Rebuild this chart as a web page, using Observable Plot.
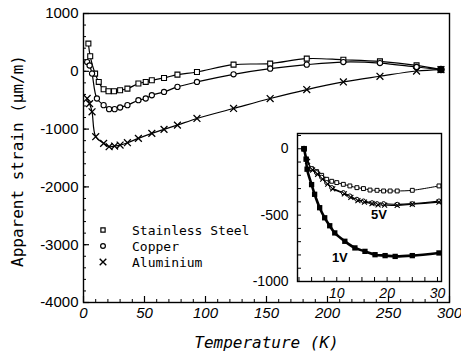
<!DOCTYPE html>
<html>
<head>
<meta charset="utf-8">
<script src="https://cdn.jsdelivr.net/npm/d3@7"></script>
<script src="https://cdn.jsdelivr.net/npm/@observablehq/plot@0.6"></script>
<style>
  html, body { margin: 0; padding: 0; background: white; }
  #wrap { position: relative; width: 461px; height: 358px; }
  #wrap > svg { position: absolute; }
</style>
</head>
<body>
<div id="wrap"></div>
<script>
// ---------- Main chart data (Temperature K, apparent strain µm/m) ----------
const ssT = [4, 5.5, 9.5, 12.5, 16.5, 20.5, 25, 30, 36, 45, 51, 56, 66, 77, 93, 123, 153, 183, 213, 243, 273, 293];
const ssV = [480, 260, -40, -184, -310, -345, -345, -328, -300, -212, -184, -155, -115, -57, -12, 115, 133, 219, 200, 172, 103, 30];

const cuT = [3, 5, 7, 11, 16.5, 21, 25.5, 30, 36, 45, 51, 56, 66, 77, 93, 123, 153, 183, 213, 243, 273, 293];
const cuV = [160, 100, -40, -471, -586, -655, -655, -626, -586, -500, -471, -414, -357, -270, -184, -52, 46, 115, 160, 143, 74, 30];

const alT = [3, 5, 7, 10, 16.5, 21, 25.5, 30, 36, 45, 56, 66, 77, 93, 123, 153, 183, 213, 243, 273, 293];
const alV = [-470, -560, -700, -1132, -1247, -1305, -1293, -1276, -1236, -1160, -1074, -1005, -931, -816, -643, -471, -316, -184, -86, 5, 30];

const seriesNames = ["Stainless Steel", "Copper", "Aluminium"];

// ---------- Inset data ----------
const inTopT = [3.5, 4, 5, 6, 7, 8, 9, 10, 11.3, 12.6, 14, 15.3, 16.6, 18, 19.3, 20.6, 22, 25, 30.3];
const inTopV = [0, -80, -150, -172, -200, -230, -245, -255, -268, -280, -293, -300, -311, -313, -318, -318, -318, -313, -280];

const in5aT = [3.5, 4, 5, 6, 7, 8, 9, 11.3, 12.6, 14, 15.3, 17, 18, 19.3, 22, 25, 30.3];
const in5aV = [0, -80, -150, -180, -215, -255, -293, -331, -356, -381, -394, -407, -414, -414, -419, -414, -394];
const in5bT = [3.5, 4.2, 5.2, 6.2, 7.2, 8.2, 9.2, 11.5, 12.8, 14.2, 15.5, 17, 18.2, 19.5, 22, 25, 30.3];
const in5bV = [0, -95, -160, -192, -228, -266, -302, -340, -366, -390, -402, -414, -422, -424, -426, -418, -402];

const in1T = [3.5, 3.9, 4.1, 5, 5.6, 6.6, 7.6, 8.6, 9.6, 11.6, 13.6, 15.6, 17.6, 19.6, 21.6, 25, 30.3];
const in1V = [0, -78, -154, -270, -343, -444, -520, -580, -634, -697, -747, -773, -798, -805, -811, -805, -785];

const voltLabels = ["5V", "1V"];

// ---------- Tick values ----------
const xTicks = [0, 50, 100, 150, 200, 250, 300];
const xMinor = d3.range(0, 301, 10);
const yTicks = [1000, 0, -1000, -2000, -3000, -4000];
const yMinor = d3.range(-4000, 1001, 200);

const inXTicks = [10, 20, 30];
const inXMinor = d3.range(2.5, 30.1, 2.5);
const inYTicks = [0, -500, -1000];
const inYMinor = d3.range(-1000, 101, 100);

const zip = (T, V) => T.map((t, i) => ({T: t, V: V[i]}));
const ss = zip(ssT, ssV), cu = zip(cuT, cuV), al = zip(alT, alV);
const iTop = zip(inTopT, inTopV), i5a = zip(in5aT, in5aV), i5b = zip(in5bT, in5bV), i1 = zip(in1T, in1V);

const tickFont = "'Liberation Sans', Arial, sans-serif";
const monoFont = "'DejaVu Sans Mono', monospace";

// ---------- Main plot ----------
const W = 461, H = 358, mL = 83, mR = 12, mT = 13, mB = 56;
const fw = W - mL - mR, fh = H - mT - mB;

const main = Plot.plot({
  width: W, height: H,
  marginLeft: mL, marginRight: mR, marginTop: mT, marginBottom: mB,
  x: {domain: [0, 300], label: null},
  y: {domain: [-4000, 1000], label: null},
  style: {background: "transparent", fontFamily: tickFont, color: "black", overflow: "visible"},
  marks: [
    Plot.tickX(xMinor, {x: d => d, insetTop: fh - 3, stroke: "black", strokeWidth: 1}),
    Plot.tickX(xTicks, {x: d => d, insetTop: fh - 6, stroke: "black", strokeWidth: 1.2}),
    Plot.tickY(yMinor, {y: d => d, insetRight: fw - 3, stroke: "black", strokeWidth: 1}),
    Plot.tickY(yTicks, {y: d => d, insetRight: fw - 6, stroke: "black", strokeWidth: 1.2}),
    Plot.axisX(xTicks, {tickSize: 0, tickPadding: 5, fontSize: 15, fontStyle: "italic", tickFormat: d => String(d), label: null}),
    Plot.axisY(yTicks, {tickSize: 0, tickPadding: 5, fontSize: 15, tickFormat: d => String(d), label: null}),
    Plot.line(ss, {x: "T", y: "V", curve: "catmull-rom", stroke: "black", strokeWidth: 1.2}),
    Plot.line(cu, {x: "T", y: "V", curve: "catmull-rom", stroke: "black", strokeWidth: 1.2}),
    Plot.line(al, {x: "T", y: "V", curve: "catmull-rom", stroke: "black", strokeWidth: 1.2}),
    Plot.dot(ss, {x: "T", y: "V", symbol: "square", r: 2.8, stroke: "black", fill: "white", strokeWidth: 1.1}),
    Plot.dot(cu, {x: "T", y: "V", symbol: "circle", r: 2.6, stroke: "black", fill: "white", strokeWidth: 1.1}),
    Plot.dot(al, {x: "T", y: "V", symbol: "times", r: 3.2, stroke: "black", strokeWidth: 1.3}),
    Plot.dot(cu.slice(-1), {x: "T", y: "V", r: 3.8, fill: "black"}),
    Plot.frame({stroke: "black", strokeWidth: 1.4}),
    Plot.text(["Temperature (K)"], {frameAnchor: "bottom", dy: 45, fontFamily: monoFont, fontSize: 16, fontStyle: "italic", fill: "black"}),
    Plot.text(["Apparent strain (µm/m)"], {frameAnchor: "left", textAnchor: "middle", dx: -66, dy: 3, rotate: -90, fontFamily: monoFont, fontSize: 16, fill: "black"})
  ]
});
main.style.left = "0px"; main.style.top = "0px";
document.getElementById("wrap").appendChild(main);

// ---------- Legend overlay ----------
const leg = d3.create("svg").attr("width", W).attr("height", H).style("left", "0px").style("top", "0px");
const legSyms = [d3.symbolSquare, d3.symbolCircle, d3.symbolTimes];
seriesNames.forEach((name, i) => {
  const y = 230 + i * 16;
  const g = leg.append("g").attr("transform", `translate(103,${y})`);
  const sym = legSyms[i];
  g.append("path").attr("d", d3.symbol(sym, i === 2 ? 30 : 18)())
    .attr("fill", i === 2 ? "none" : "white").attr("stroke", "black").attr("stroke-width", i === 2 ? 1.4 : 1.2);
  leg.append("text").attr("x", 132).attr("y", y + 5).text(name)
    .attr("font-family", "'DejaVu Sans Mono', monospace").attr("font-size", 13).attr("fill", "black");
});
document.getElementById("wrap").appendChild(leg.node());

// ---------- Inset ----------
const iW = 215, iH = 183, imL = 57, imR = 14, imT = 13, imB = 22;
const ifw = iW - imL - imR, ifh = iH - imT - imB;
const inset = Plot.plot({
  width: iW, height: iH,
  marginLeft: imL, marginRight: imR, marginTop: imT, marginBottom: imB,
  x: {domain: [2.2, 30.8], label: null},
  y: {domain: [-1000, 115], label: null},
  style: {background: "transparent", fontFamily: tickFont, color: "black", overflow: "visible"},
  marks: [
    Plot.frame({fill: "white", stroke: "none"}),
    Plot.tickX(inXMinor, {x: d => d, insetTop: ifh - 4, stroke: "black", strokeWidth: 1}),
    Plot.tickY(inYMinor, {y: d => d, insetRight: ifw - 4, stroke: "black", strokeWidth: 1}),
    Plot.axisX(inXTicks, {tickSize: 0, tickPadding: 7, fontSize: 14, fontStyle: "italic", tickFormat: d => String(d), label: null}),
    Plot.axisY(inYTicks, {tickSize: 0, tickPadding: 9, fontSize: 14, tickFormat: d => String(d), label: null}),
    Plot.line(iTop, {x: "T", y: "V", curve: "catmull-rom", stroke: "black", strokeWidth: 1}),
    Plot.line(i5a, {x: "T", y: "V", curve: "catmull-rom", stroke: "black", strokeWidth: 1.2}),
    Plot.line(i5b, {x: "T", y: "V", curve: "catmull-rom", stroke: "black", strokeWidth: 1.2}),
    Plot.line(i1, {x: "T", y: "V", curve: "catmull-rom", stroke: "black", strokeWidth: 2.6}),
    Plot.dot(iTop, {x: "T", y: "V", symbol: "square", r: 2.2, stroke: "black", fill: "white", strokeWidth: 1}),
    Plot.dot(i5a, {x: "T", y: "V", symbol: "circle", r: 2.1, stroke: "black", fill: "white", strokeWidth: 1}),
    Plot.dot(i5b, {x: "T", y: "V", symbol: "times", r: 2.4, stroke: "black", strokeWidth: 1.1}),
    Plot.dot(i1, {x: "T", y: "V", symbol: "square", r: 3, fill: "black"}),
    Plot.dot(i1.slice(0, 1), {x: "T", y: "V", r: 3, fill: "black"}),
    Plot.text(i5a.filter(d => d.T === 18), {x: "T", y: "V", text: () => voltLabels[0], dy: 11, dx: 2, fontSize: 13, fontWeight: "bold", fill: "black"}),
    Plot.text(i1.filter(d => d.T === 11.6), {x: "T", y: "V", text: () => voltLabels[1], dy: 17, dx: -5, fontSize: 13, fontWeight: "bold", fill: "black"}),
    Plot.frame({stroke: "black", strokeWidth: 1.4})
  ]
});
inset.style.left = "240px"; inset.style.top = "120px";
document.getElementById("wrap").appendChild(inset);
</script>
</body>
</html>
